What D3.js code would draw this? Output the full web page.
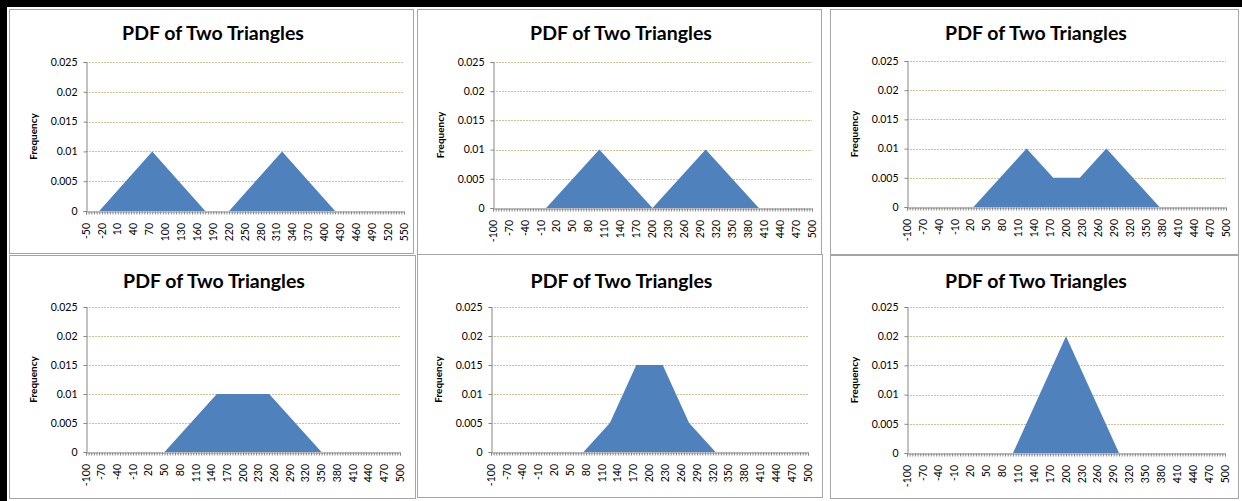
<!DOCTYPE html>
<html>
<head>
<meta charset="utf-8">
<script src="https://cdn.jsdelivr.net/npm/d3@7"></script>
<style>
  body { margin: 0; background: #fff; }
  svg { display: block; }
</style>
</head>
<body>
<div id="chart"></div>
<script>
// category axis labels (every 6th category, categories step 5)
const xLabelsA = [-50, -20, 10, 40, 70, 100, 130, 160, 190, 220, 250, 280, 310, 340, 370, 400, 430, 460, 490, 520, 550];
const xLabelsB = [-100, -70, -40, -10, 20, 50, 80, 110, 140, 170, 200, 230, 260, 290, 320, 350, 380, 410, 440, 470, 500];
const yTicks = [0, 0.005, 0.01, 0.015, 0.02, 0.025];
const categoryStep = 5;

// area outline vertices [x, frequency]
const panel1 = [[-50, 0], [-25, 0], [75, 0.01], [175, 0], [220, 0], [320, 0.01], [420, 0], [550, 0]];
const panel2 = [[-100, 0], [0, 0], [100, 0.01], [200, 0], [300, 0.01], [400, 0], [500, 0]];
const panel3 = [[-100, 0], [25, 0], [125, 0.01], [175, 0.005], [225, 0.005], [275, 0.01], [375, 0], [500, 0]];
const panel4 = [[-100, 0], [50, 0], [150, 0.01], [250, 0.01], [350, 0], [500, 0]];
const panel5 = [[-100, 0], [75, 0], [125, 0.005], [175, 0.015], [225, 0.015], [275, 0.005], [325, 0], [500, 0]];
const panel6 = [[-100, 0], [100, 0], [200, 0.02], [300, 0], [500, 0]];

const width = 1242;
const height = 501;

const svg = d3.select('#chart')
  .append('svg')
  .attr('width', width)
  .attr('height', height);

// black frame on the top and left edge
svg.append('rect').attr('x', 0).attr('y', 0).attr('width', width).attr('height', 7).attr('fill', '#000');
svg.append('rect').attr('x', 0).attr('y', 0).attr('width', 7).attr('height', height).attr('fill', '#000');

// layout of each panel: box, plot area, title baseline
const panels = [
  { data: panel1, labels: xLabelsA, box: [9, 9, 413, 253], px: [86, 404], py: [62, 211], titleY: 40 },
  { data: panel2, labels: xLabelsB, box: [417, 9, 821, 254], px: [493, 812], py: [62, 208], titleY: 40 },
  { data: panel3, labels: xLabelsB, box: [830, 9, 1238, 254], px: [907, 1226], py: [61, 207], titleY: 40 },
  { data: panel4, labels: xLabelsB, box: [9, 255, 415, 498], px: [86, 400], py: [307, 452], titleY: 288 },
  { data: panel5, labels: xLabelsB, box: [417, 254, 822, 497], px: [491, 808], py: [307, 452], titleY: 288 },
  { data: panel6, labels: xLabelsB, box: [830, 255, 1238, 498], px: [907, 1225], py: [307, 453], titleY: 288 }
];

panels.forEach(p => drawPanel(p));

function drawPanel(p) {
  const g = svg.append('g');
  const [bx0, by0, bx1, by1] = p.box;

  // panel border
  g.append('rect')
    .attr('x', bx0 + 0.5).attr('y', by0 + 0.5)
    .attr('width', bx1 - bx0).attr('height', by1 - by0)
    .attr('fill', '#fff')
    .attr('stroke', '#a5a5a5');

  const xMin = p.labels[0];
  const xMax = p.labels[p.labels.length - 1];

  const x = d3.scaleLinear()
    .domain([xMin, xMax])
    .range(p.px);

  const y = d3.scaleLinear()
    .domain([0, 0.025])
    .range([p.py[1], p.py[0]]);

  // gridlines
  g.selectAll('.grid')
    .data(yTicks.slice(1))
    .enter()
    .append('line')
    .attr('x1', p.px[0]).attr('x2', p.px[1])
    .attr('y1', d => Math.round(y(d)) + 0.5)
    .attr('y2', d => Math.round(y(d)) + 0.5)
    .attr('stroke', '#cbc395')
    .attr('stroke-dasharray', '2,1');

  // the area
  const area = d3.area()
    .x(d => x(d[0]))
    .y0(y(0))
    .y1(d => y(d[1]));

  g.append('path')
    .datum(p.data)
    .attr('d', area)
    .attr('fill', '#4f81bd');

  // x axis: a tick at every category, label every 6th
  const cats = d3.range(xMin, xMax + 1, categoryStep);
  const xAxis = d3.axisBottom(x)
    .tickValues(cats)
    .tickSize(3)
    .tickFormat('');

  const xg = g.append('g')
    .attr('transform', `translate(0, ${Math.round(y(0)) + 0.5})`)
    .call(xAxis);
  xg.select('.domain').attr('stroke', '#868686');
  xg.selectAll('.tick line').attr('stroke', '#868686');

  g.selectAll('.xlabel')
    .data(p.labels)
    .enter()
    .append('text')
    .attr('transform', d => `translate(${x(d)}, ${y(0) + 12}) rotate(-90)`)
    .attr('dy', '0.35em')
    .style('text-anchor', 'end')
    .style('font-family', 'Lato, sans-serif')
    .style('font-size', '10.5px')
    .attr('fill', '#000')
    .text(d => d);

  // y axis
  const yAxis = d3.axisLeft(y)
    .tickValues(yTicks)
    .tickSize(3)
    .tickFormat(d => d === 0 ? '0' : String(+d.toFixed(3)));

  const yg = g.append('g')
    .attr('transform', `translate(${p.px[0] + 0.5}, 0)`)
    .call(yAxis);
  yg.select('.domain').attr('stroke', '#868686');
  yg.selectAll('.tick line').attr('stroke', '#868686');
  yg.selectAll('.tick text')
    .attr('x', -9)
    .style('font-family', 'Lato, sans-serif')
    .style('font-size', '10.5px')
    .attr('fill', '#000');

  // y axis title
  g.append('text')
    .attr('transform', `translate(${p.px[0] - 53}, ${(p.py[0] + p.py[1]) / 2}) rotate(-90)`)
    .attr('dy', '0.35em')
    .style('text-anchor', 'middle')
    .style('font-family', 'Lato, sans-serif')
    .style('font-weight', 'bold')
    .style('font-size', '10px')
    .text('Frequency');

  // chart title
  g.append('text')
    .attr('x', (bx0 + bx1) / 2 + 2)
    .attr('y', p.titleY)
    .style('text-anchor', 'middle')
    .style('font-family', 'Lato, sans-serif')
    .style('font-weight', 'bold')
    .style('font-size', '19.5px')
    .text('PDF of Two Triangles');
}
</script>
</body>
</html>
